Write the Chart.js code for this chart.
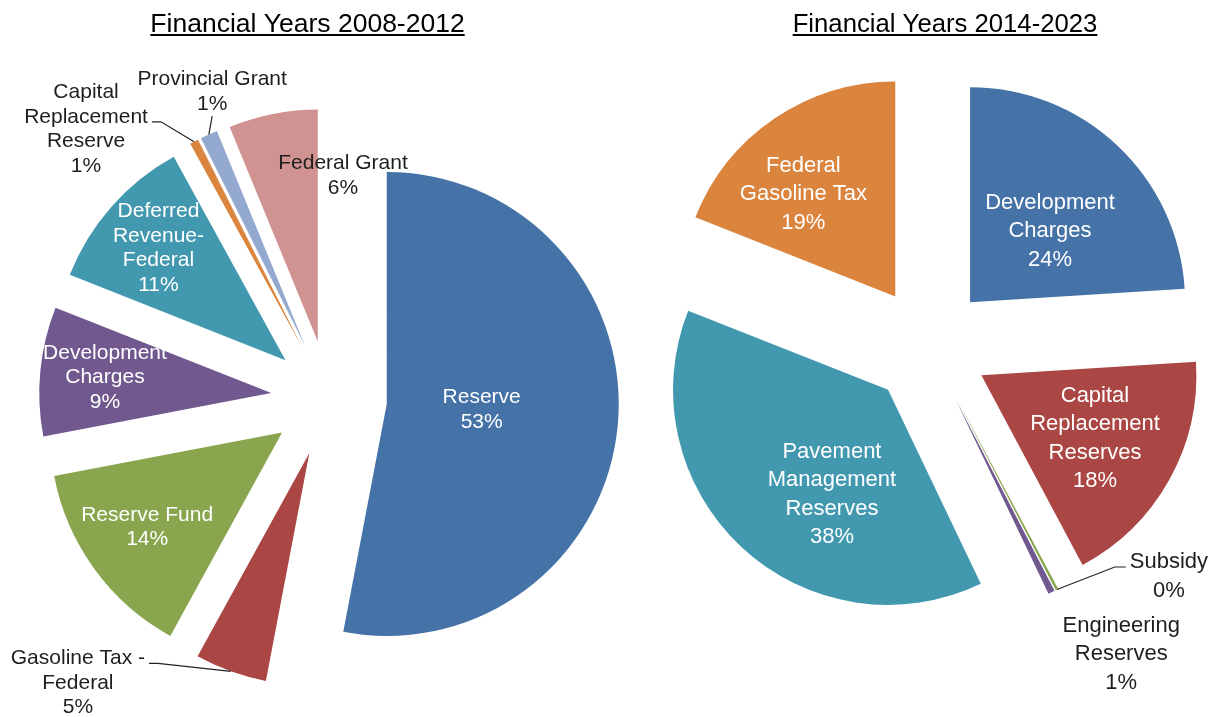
<!DOCTYPE html>
<html>
<head>
<meta charset="utf-8">
<script src="https://cdn.jsdelivr.net/npm/chart.js@4"></script>
<style>
  html, body { margin: 0; padding: 0; background: #fff; }
  body { width: 1219px; height: 717px; position: relative; overflow: hidden; }
  canvas { position: absolute; top: 0; }
  #left { left: 0; }
  #right { left: 640px; }
</style>
</head>
<body>
<canvas id="left" width="640" height="717"></canvas>
<canvas id="right" width="579" height="717"></canvas>
<script>
// Funding sources, financial years 2008-2012 (share of total, %)
const sources2008 = ['Reserve', 'Gasoline Tax - Federal', 'Reserve Fund', 'Development Charges',
  'Deferred Revenue-Federal', 'Capital Replacement Reserve', 'Provincial Grant', 'Federal Grant'];
const shares2008 = [53, 5, 14, 9, 11, 0.6, 1.2, 6.2];
const labelLines2008 = [['Reserve'], ['Gasoline Tax -', 'Federal'], ['Reserve Fund'], ['Development', 'Charges'],
  ['Deferred', 'Revenue-', 'Federal'], ['Capital', 'Replacement', 'Reserve'], ['Provincial Grant'], ['Federal Grant']];

// Funding sources, financial years 2014-2023 (share of total, %)
const sources2014 = ['Development Charges', 'Capital Replacement Reserves', 'Subsidy', 'Engineering Reserves',
  'Pavement Management Reserves', 'Federal Gasoline Tax'];
const shares2014 = [24, 18.2, 0.2, 0.5, 38.1, 19];
const labelLines2014 = [['Development', 'Charges'], ['Capital', 'Replacement', 'Reserves'], ['Subsidy'],
  ['Engineering', 'Reserves'], ['Pavement', 'Management', 'Reserves'], ['Federal', 'Gasoline Tax']];

// slice colours
const colors2008 = ['#4572A7', '#AA4643', '#89A54E', '#71588F', '#4198AF', '#DB843D', '#93A9CF', '#D19392'];
const colors2014 = ['#4572A7', '#AA4643', '#89A54E', '#71588F', '#4198AF', '#DB843D'];

const LIGHT = '#ffffff';
const DARK = '#1e1e1e';
const FONT = '"Liberation Sans", Arial, sans-serif';

// where each label sits: distance along the slice direction (x radius), turn in degrees
const place2008 = [
  { dist: 0.41, turn: -2, color: LIGHT },
  { dist: 1.406, turn: 25.4, color: DARK, leader: { side: 'right', line: 0 } },
  { dist: 0.71, turn: 1, color: LIGHT },
  { dist: 0.72, turn: 0, color: LIGHT },
  { dist: 0.73, turn: 0, color: LIGHT },
  { dist: 1.323, turn: -17, color: DARK, leader: { side: 'right', line: 1 } },
  { dist: 1.165, turn: 4.4, color: DARK, leader: { side: 'bottom' } },
  { dist: 0.724, turn: 19.8, color: DARK }
];
const place2014 = [
  { dist: 0.498, turn: 5.1, color: LIGHT },
  { dist: 0.605, turn: 0, color: LIGHT },
  { dist: 1.285, turn: -22.4, color: DARK, leader: { side: 'left', line: 0 } },
  { dist: 1.411, turn: -6.6, color: DARK },
  { dist: 0.552, turn: -14.8, color: LIGHT },
  { dist: 0.64, turn: -7.7, color: LIGHT }
];

// Draws every slice pushed outwards from the centre along its own middle angle
const explodePlugin = {
  id: 'explode',
  beforeDatasetDraw(chart, args, opts) {
    const ctx = chart.ctx;
    args.meta.data.forEach(arc => {
      const mid = (arc.startAngle + arc.endAngle) / 2;
      ctx.save();
      ctx.translate(Math.cos(mid) * opts.distance, Math.sin(mid) * opts.distance);
      arc.draw(ctx, chart.chartArea);
      ctx.restore();
    });
    return false;
  }
};

// Category name + rounded percentage for each slice, with leader lines for outside labels
const sliceLabelPlugin = {
  id: 'sliceLabels',
  afterDatasetsDraw(chart, args, opts) {
    const ctx = chart.ctx;
    const meta = chart.getDatasetMeta(0);
    const values = chart.data.datasets[0].data;
    const push = chart.options.plugins.explode.distance;
    ctx.save();
    ctx.font = opts.font;
    ctx.textAlign = 'center';
    ctx.textBaseline = 'middle';
    meta.data.forEach((arc, i) => {
      const mid = (arc.startAngle + arc.endAngle) / 2;
      const cx = arc.x + Math.cos(mid) * push;
      const cy = arc.y + Math.sin(mid) * push;
      const R = arc.outerRadius;
      const p = opts.place[i];
      const a = mid + p.turn * Math.PI / 180;
      const lx = cx + Math.cos(a) * p.dist * R;
      const ly = cy + Math.sin(a) * p.dist * R;
      const lines = opts.lines[i].concat(Math.round(values[i]) + '%');
      const top = ly - (lines.length - 1) / 2 * opts.lineHeight;
      ctx.fillStyle = p.color;
      lines.forEach((t, k) => ctx.fillText(t, lx, top + k * opts.lineHeight));

      if (p.leader) {
        const rim = { x: cx + Math.cos(mid) * R, y: cy + Math.sin(mid) * R };
        const pts = [];
        if (p.leader.side === 'bottom') {
          pts.push({ x: lx, y: top + (lines.length - 1) * opts.lineHeight + 12 });
        } else {
          const ln = p.leader.line;
          const w = ctx.measureText(lines[ln]).width;
          const yy = top + ln * opts.lineHeight + 5;
          if (p.leader.side === 'right') {
            const x0 = lx + w / 2 + 4;
            pts.push({ x: x0, y: yy }, { x: x0 + 9, y: yy });
          } else {
            const x0 = lx - w / 2 - 4;
            pts.push({ x: x0, y: yy }, { x: x0 - 11, y: yy });
          }
        }
        pts.push(rim);
        ctx.strokeStyle = '#222';
        ctx.lineWidth = 1.2;
        ctx.beginPath();
        ctx.moveTo(pts[0].x, pts[0].y);
        for (let k = 1; k < pts.length; k++) ctx.lineTo(pts[k].x, pts[k].y);
        ctx.stroke();
      }
    });
    ctx.restore();
  }
};

// Underlined heading above each pie
const headingPlugin = {
  id: 'heading',
  afterDraw(chart, args, opts) {
    const ctx = chart.ctx;
    ctx.save();
    ctx.font = opts.font;
    ctx.fillStyle = '#000';
    ctx.textAlign = 'center';
    ctx.textBaseline = 'alphabetic';
    ctx.fillText(opts.text, opts.x, opts.y);
    const w = ctx.measureText(opts.text).width;
    ctx.fillRect(opts.x - w / 2, opts.y + 2, w, 2);
    ctx.restore();
  }
};

function makePie(canvasId, labels, values, colors, lines, place, cfg) {
  return new Chart(document.getElementById(canvasId), {
    type: 'pie',
    data: {
      labels: labels,
      datasets: [{ data: values, backgroundColor: colors, borderWidth: 0 }]
    },
    options: {
      responsive: false,
      animation: false,
      events: [],
      radius: cfg.radius,
      layout: { padding: cfg.padding },
      plugins: {
        legend: { display: false },
        tooltip: { enabled: false },
        explode: { distance: cfg.push },
        sliceLabels: { lines: lines, place: place, font: cfg.labelFont, lineHeight: cfg.lineHeight },
        heading: cfg.heading
      }
    },
    plugins: [explodePlugin, sliceLabelPlugin, headingPlugin]
  });
}

makePie('left', sources2008, shares2008, colors2008, labelLines2008, place2008, {
  radius: 232, push: 58,
  padding: { left: 18, top: 80, right: 0, bottom: 0 },
  labelFont: '21px ' + FONT, lineHeight: 24.5,
  heading: { text: 'Financial Years 2008-2012', x: 307.5, y: 32, font: '26.5px ' + FONT }
});

makePie('right', sources2014, shares2014, colors2014, labelLines2014, place2014, {
  radius: 215, push: 60,
  padding: { left: 0, top: 0, right: 1, bottom: 25 },
  labelFont: '22px ' + FONT, lineHeight: 28.5,
  heading: { text: 'Financial Years 2014-2023', x: 305, y: 32, font: '25.7px ' + FONT }
});
</script>
</body>
</html>
